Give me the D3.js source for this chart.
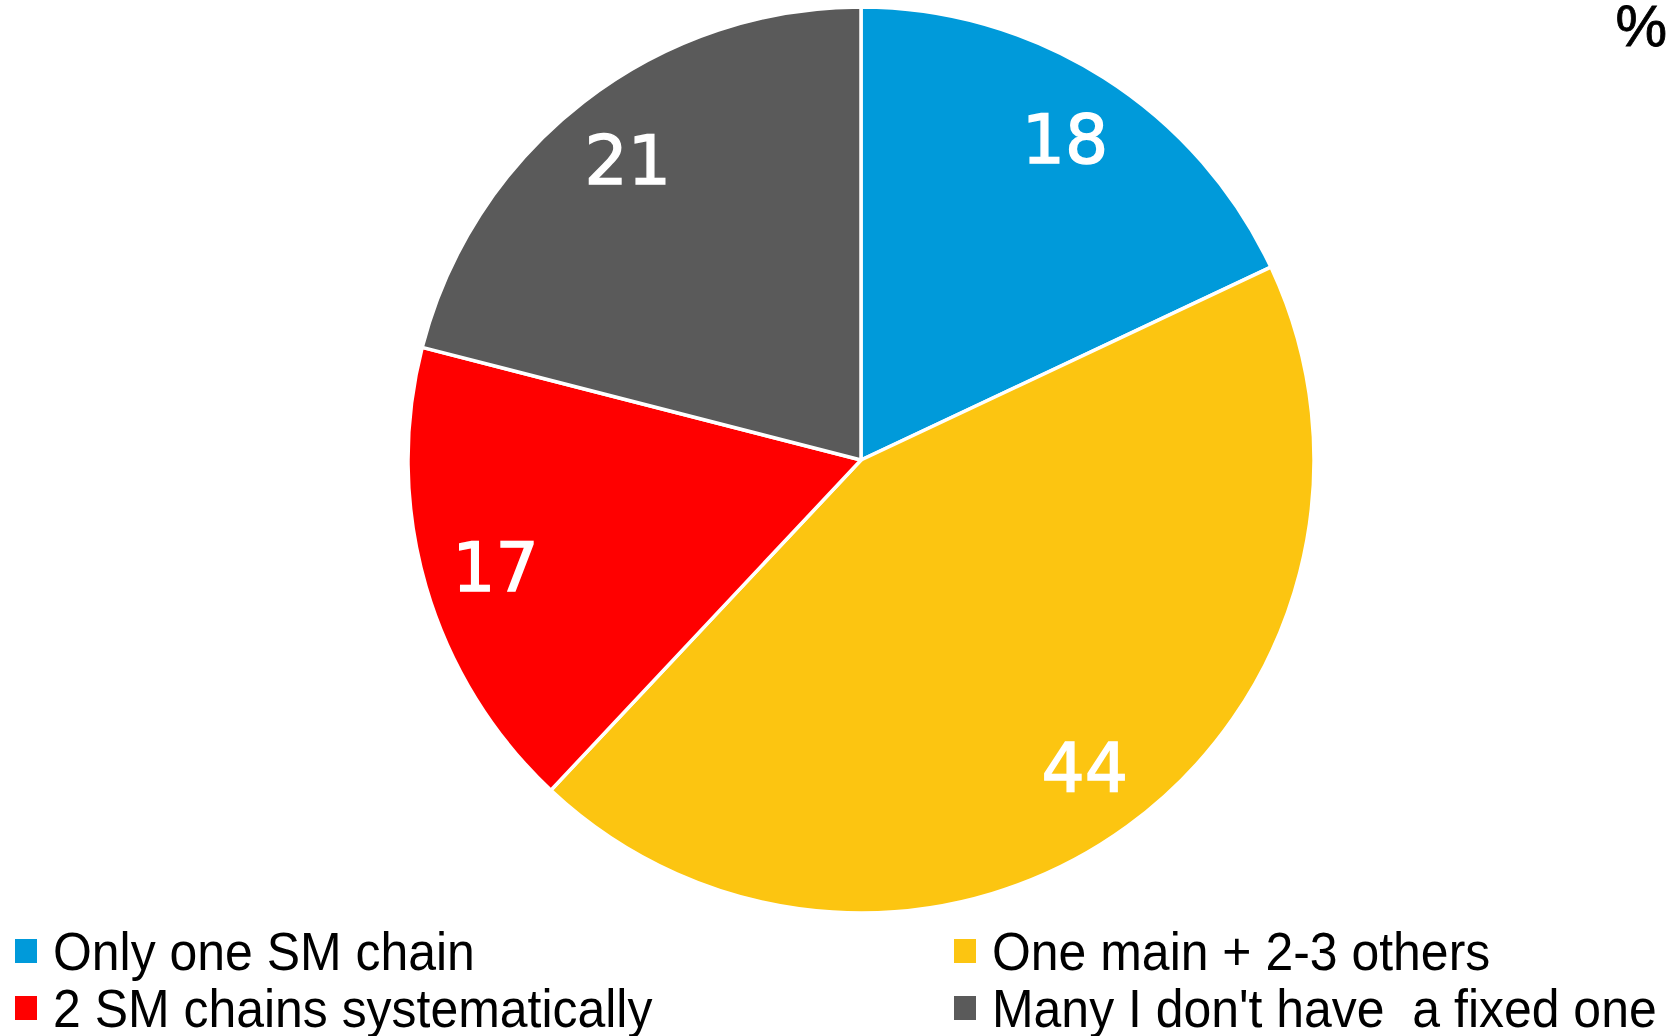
<!DOCTYPE html>
<html>
<head>
<meta charset="utf-8">
<script src="https://cdn.jsdelivr.net/npm/d3@7"></script>
<style>
  html, body { margin: 0; padding: 0; background: #fff; }
  svg { display: block; }
</style>
</head>
<body>
<svg id="chart" width="1672" height="1036"></svg>
<script>
// Share of respondents by how many supermarket chains they use (%)
const categories = [
  "Only one SM chain",
  "One main + 2-3 others",
  "2 SM chains systematically",
  "Many I don't have  a fixed one"
];
const values = [18, 44, 17, 21];
const colors = ["#009ADA", "#FCC511", "#FF0000", "#5A5A5A"];

// Legend layout: two columns, row-major in this order
const legendOrder = [
  "Only one SM chain",
  "One main + 2-3 others",
  "2 SM chains systematically",
  "Many I don't have  a fixed one"
];

const W = 1672, H = 1036;
const cx = 861, cy = 460, R = 453;

const svg = d3.select("#chart");

const color = d3.scaleOrdinal().domain(categories).range(colors);

const data = categories.map((c, i) => ({ name: c, value: values[i] }));

const pie = d3.pie()
  .value(d => d.value)
  .sort(null)
  .startAngle(0)
  .endAngle(2 * Math.PI);

const arcs = pie(data);

const arc = d3.arc().innerRadius(0).outerRadius(R);
const labelArc = d3.arc().innerRadius(R * 0.84).outerRadius(R * 0.84);

const g = svg.append("g").attr("transform", `translate(${cx},${cy})`);

g.selectAll("path.slice")
  .data(arcs)
  .join("path")
  .attr("class", "slice")
  .attr("d", arc)
  .attr("fill", d => color(d.data.name))
  .attr("stroke", "#fff")
  .attr("stroke-width", 3.5)
  .attr("stroke-linejoin", "round");

g.selectAll("text.value")
  .data(arcs)
  .join("text")
  .attr("class", "value")
  .attr("transform", d => `translate(${labelArc.centroid(d)})`)
  .attr("text-anchor", "middle")
  .attr("dy", "0.36em")
  .attr("font-family", "'DejaVu Sans', Verdana, sans-serif")
  .attr("font-size", 68)
  .attr("fill", "#fff")
  .attr("stroke", "#fff")
  .attr("stroke-width", 1.4)
  .text(d => d.data.value);

// Unit marker in the top-right corner
svg.append("text")
  .attr("x", 1667)
  .attr("y", 46)
  .attr("text-anchor", "end")
  .attr("font-family", "'Liberation Sans', Arial, sans-serif")
  .attr("font-size", 58)
  .attr("fill", "#000")
  .attr("stroke", "#000")
  .attr("stroke-width", 0.8)
  .text("%");

// Legend (text condensed horizontally to a narrow face)
const colX = [15, 954];
const rowY = [951, 1008];
const narrow = 0.925;
const legend = svg.append("g").attr("class", "legend");

legendOrder.forEach((name, i) => {
  const col = i % 2, row = Math.floor(i / 2);
  const item = legend.append("g")
    .attr("transform", `translate(${colX[col]},${rowY[row]})`);
  item.append("rect")
    .attr("x", 0)
    .attr("y", -12)
    .attr("width", 22)
    .attr("height", 24)
    .attr("fill", color(name));
  item.append("text")
    .attr("transform", `translate(38,19) scale(${narrow},1)`)
    .attr("font-family", "'Liberation Sans Narrow', 'Arial Narrow', 'Liberation Sans', sans-serif")
    .attr("font-size", 54)
    .attr("fill", "#000")
    .attr("xml:space", "preserve")
    .style("white-space", "pre")
    .text(name);
});
</script>
</body>
</html>
